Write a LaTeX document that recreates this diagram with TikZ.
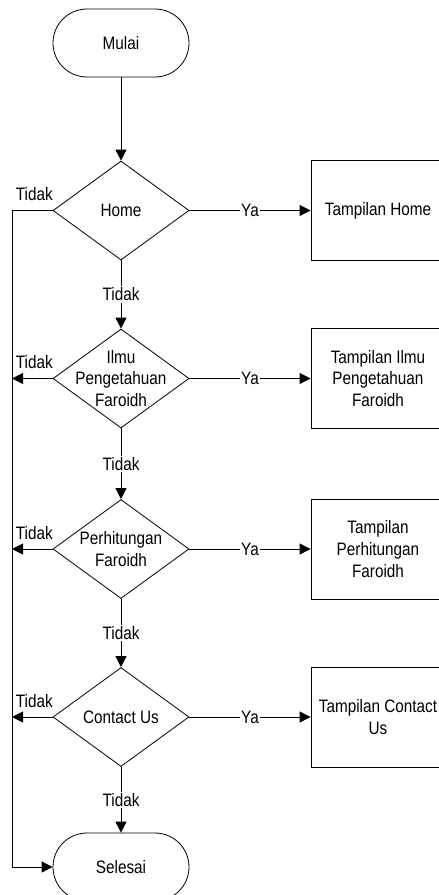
\documentclass[tikz,border=0pt]{standalone}
\usepackage{fontspec}
\setmainfont{Liberation Sans}[FakeStretch=0.85]
\usetikzlibrary{arrows.meta,shapes.geometric}
\begin{document}
\begin{tikzpicture}[x=1pt,y=-1pt,
  every node/.style={font=\fontsize{18pt}{21.6pt}\selectfont},
  line/.style={line width=0.8pt},
  arr/.style={line, -{Triangle[length=11pt,width=11pt]}},
  term/.style={draw, line width=0.8pt, rectangle, rounded corners=34pt, minimum width=136pt, minimum height=68pt, inner sep=0pt},
  dec/.style={draw, line width=0.8pt, diamond, minimum width=136pt, minimum height=99pt, inner sep=0pt},
  proc/.style={draw, line width=0.8pt, rectangle, minimum width=134pt, minimum height=100pt, align=center, inner sep=0pt},
  dectext/.style={label={[align=center, inner sep=0pt]center:#1}},
  lbl/.style={fill=white, inner sep=1.5pt},
  tlbl/.style={pos=0.45, anchor=base, yshift=10pt, inner sep=0pt}]
\useasboundingbox (0,0) rectangle (439,895);
\clip (0,0) rectangle (439,895);

% terminals
\node[term] (mulai) at (121,43) {Mulai};
\node[term] (selesai) at (121,867) {Selesai};

% decisions
\node[dec, dectext={Home}] (d1) at (121,210.5) {};
\node[dec, dectext={Ilmu\\Pengetahuan\\Faroidh}] (d2) at (121,378.5) {};
\node[dec, dectext={Perhitungan\\Faroidh}] (d3) at (121,549) {};
\node[dec, dectext={Contact Us}] (d4) at (121,717) {};

% processes
\node[proc] (p1) at (378,210.5) {Tampilan Home};
\node[proc] (p2) at (378,378.5) {Tampilan Ilmu\\Pengetahuan\\Faroidh};
\node[proc] (p3) at (378,549) {Tampilan\\Perhitungan\\Faroidh};
\node[proc] (p4) at (378,717) {Tampilan Contact\\Us};

\coordinate (lx) at (12,210.5);

% main flow
\draw[arr] (mulai) -- (d1);
\draw[arr] (d1) -- node[lbl]{Tidak} (d2);
\draw[arr] (d2) -- node[lbl]{Tidak} (d3);
\draw[arr] (d3) -- node[lbl]{Tidak} (d4);
\draw[arr] (d4) -- node[lbl]{Tidak} (selesai);

% yes branches
\draw[arr] (d1.east) -- node[lbl]{Ya} (p1.west);
\draw[arr] (d2.east) -- node[lbl]{Ya} (p2.west);
\draw[arr] (d3.east) -- node[lbl]{Ya} (p3.west);
\draw[arr] (d4.east) -- node[lbl]{Ya} (p4.west);

% no branches to the left
\draw[arr] (d1.west) -- node[tlbl]{Tidak} (lx) |- (selesai.west);
\draw[arr] (d2.west) -- node[tlbl]{Tidak} (d2.west -| lx);
\draw[arr] (d3.west) -- node[tlbl]{Tidak} (d3.west -| lx);
\draw[arr] (d4.west) -- node[tlbl]{Tidak} (d4.west -| lx);
\end{tikzpicture}
\end{document}
